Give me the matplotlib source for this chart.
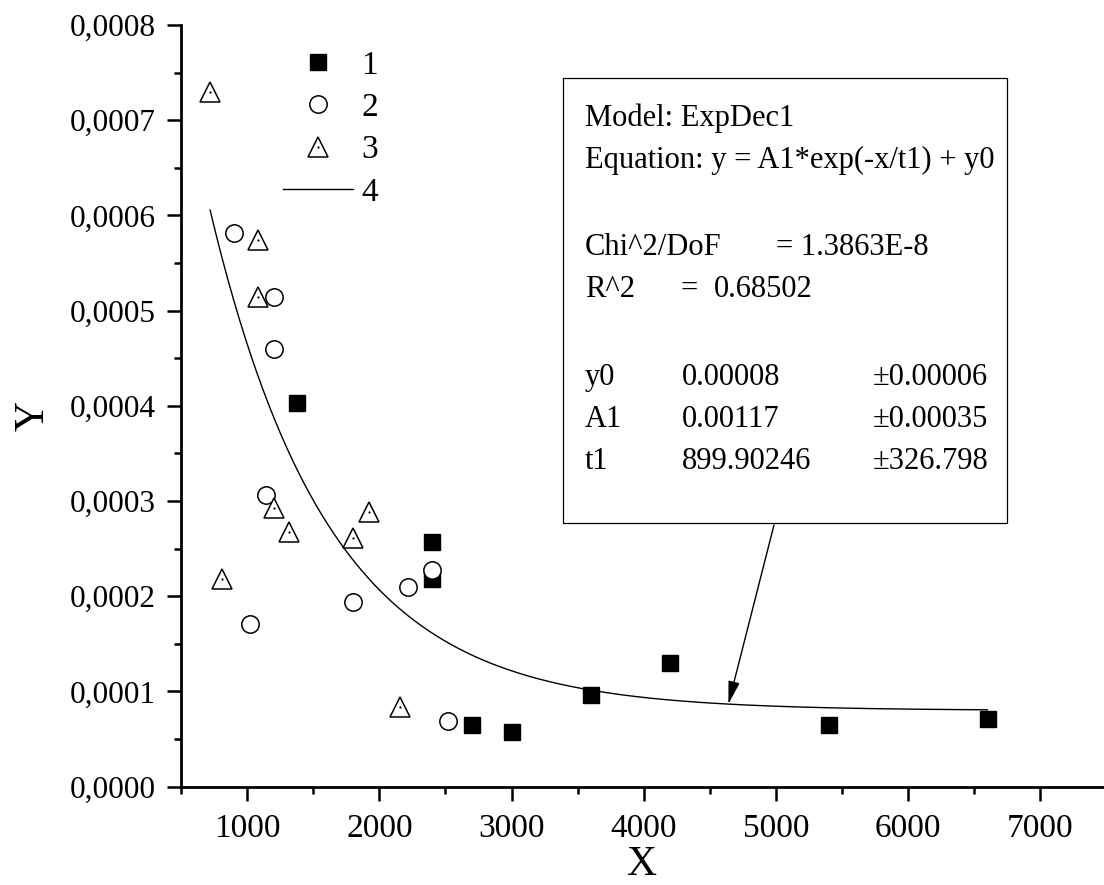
import numpy as np
import matplotlib
matplotlib.use("Agg")
import matplotlib.pyplot as plt
from matplotlib.ticker import MultipleLocator, FuncFormatter
from matplotlib.patches import Rectangle
from matplotlib.legend_handler import HandlerTuple

plt.rcParams['font.family'] = ['Liberation Serif', 'DejaVu Serif']

# series 1 (filled squares)
x1 = [1380, 2400, 2400, 2700, 3000, 3600, 4200, 5400, 6600]
y1 = [0.000403, 0.000257, 0.000218, 0.0000647, 0.0000577, 0.0000966, 0.000130, 0.0000647, 0.0000707]
# series 2 (open circles)
x2 = [900, 1020, 1140, 1200, 1200, 1800, 2220, 2400, 2520]
y2 = [0.000582, 0.000171, 0.000306, 0.000514, 0.000460, 0.000194, 0.000210, 0.000228, 0.0000689]
# series 3 (open triangles)
x3 = [720, 810, 1080, 1080, 1200, 1320, 1800, 1920, 2160]
y3 = [0.000730, 0.000218, 0.000574, 0.000514, 0.000293, 0.000268, 0.000261, 0.000288, 0.0000835]

# ExpDec1 fit parameters
y0, A1, t1 = 0.00008, 0.00117, 899.90246
fit_x_range = (720, 6600)
arrow_x = 4640

labels = ['1', '2', '3', '4']

W, H = 1104, 885
fig = plt.figure(figsize=(W / 100, H / 100), dpi=100)


def fx(px):
    return px / W


def fy(py):
    return 1 - py / H


ax = fig.add_axes([fx(181), fy(786.7), (1106.5 - 181) / W, (786.7 - 25) / H])

s1, = ax.plot(x1, y1, ls='none', marker='s', ms=11.3, mfc='black', mec='black', zorder=3)
s2, = ax.plot(x2, y2, ls='none', marker='o', ms=12.5, mfc='white', mec='black', mew=1.1, zorder=4)
s3, = ax.plot(x3, y3, ls='none', marker='^', ms=14, mfc='white', mec='black', mew=1.1, zorder=5)
s3d, = ax.plot(x3, y3, ls='none', marker='o', ms=1.6, mfc='black', mec='black', mew=0, zorder=6)

xf = np.linspace(fit_x_range[0], fit_x_range[1], 400)
yf = A1 * np.exp(-xf / t1) + y0
s4, = ax.plot(xf, yf, color='black', lw=1.0, zorder=2)

ax.set_xlim(500, 7500)
ax.set_ylim(0, 0.0008)
ax.spines['top'].set_visible(False)
ax.spines['right'].set_visible(False)
for sp in ('left', 'bottom'):
    ax.spines[sp].set_linewidth(2.0)

ax.xaxis.set_major_locator(MultipleLocator(1000))
ax.xaxis.set_minor_locator(MultipleLocator(500))
ax.yaxis.set_major_locator(MultipleLocator(0.0001))
ax.yaxis.set_minor_locator(MultipleLocator(0.00005))
ax.yaxis.set_major_formatter(FuncFormatter(lambda v, p: f"{v:.4f}".replace('.', ',')))
ax.xaxis.set_major_formatter(FuncFormatter(lambda v, p: f"{v:.0f}"))

ax.tick_params(axis='both', which='major', direction='out', length=10, width=1.8)
ax.tick_params(axis='both', which='minor', direction='out', length=5, width=1.8)
ax.tick_params(axis='y', which='major', labelsize=22.5, pad=8)
ax.tick_params(axis='x', which='major', labelsize=24, pad=9)

fig.text(fx(43), fy(416), 'Y', fontsize=30, rotation=90, ha='center', va='baseline',
         rotation_mode='anchor')
fig.text(fx(641), fy(884), 'X', fontsize=30, ha='center', va='bottom')

leg = ax.legend([s1, s2, (s3, s3d), s4], labels, loc='upper left',
                bbox_to_anchor=(fx(283), fy(50)), bbox_transform=fig.transFigure,
                frameon=False, fontsize=24, borderpad=0, borderaxespad=0,
                handlelength=2.1, handletextpad=0.25, labelspacing=0.36,
                numpoints=1, handler_map={tuple: HandlerTuple(ndivide=1, pad=0)})

# fit result box
fig.patches.append(Rectangle((fx(563), fy(523)), fx(1007) - fx(563), fy(78) - fy(523),
                             transform=fig.transFigure, fill=False, ec='black', lw=0.9,
                             zorder=5))
tsize = 22
fig.text(fx(585), fy(126), "Model: ExpDec1", fontsize=tsize, va='baseline')
fig.text(fx(585), fy(168), "Equation: y = A1*exp(-x/t1) + y0", fontsize=tsize, va='baseline')
fig.text(fx(585), fy(255), "Chi^2/DoF", fontsize=tsize, va='baseline')
fig.text(fx(776), fy(255), "= 1.3863E-8", fontsize=tsize, va='baseline')
fig.text(fx(585), fy(297), "R^2", fontsize=tsize, va='baseline')
fig.text(fx(680), fy(297), "=", fontsize=tsize, va='baseline')
fig.text(fx(714), fy(297), "0.68502", fontsize=tsize, va='baseline')
params = [("y0", "0.00008", "±0.00006"),
          ("A1", "0.00117", "±0.00035"),
          ("t1", "899.90246", "±326.798")]
for i, (n, v, e) in enumerate(params):
    yb = 385 + 42 * i
    fig.text(fx(585), fy(yb), n, fontsize=tsize, va='baseline')
    fig.text(fx(682), fy(yb), v, fontsize=tsize, va='baseline')
    fig.text(fx(873), fy(yb), e, fontsize=tsize, va='baseline')

ax.annotate('', xy=(arrow_x, A1 * np.exp(-arrow_x / t1) + y0), xycoords='data',
            xytext=(774, H - 525), textcoords='figure pixels',
            arrowprops=dict(arrowstyle='-|>,head_length=1.4,head_width=0.35',
                            color='black', lw=1.0, shrinkA=0, shrinkB=0))

fig.savefig('out.png', dpi=100)
